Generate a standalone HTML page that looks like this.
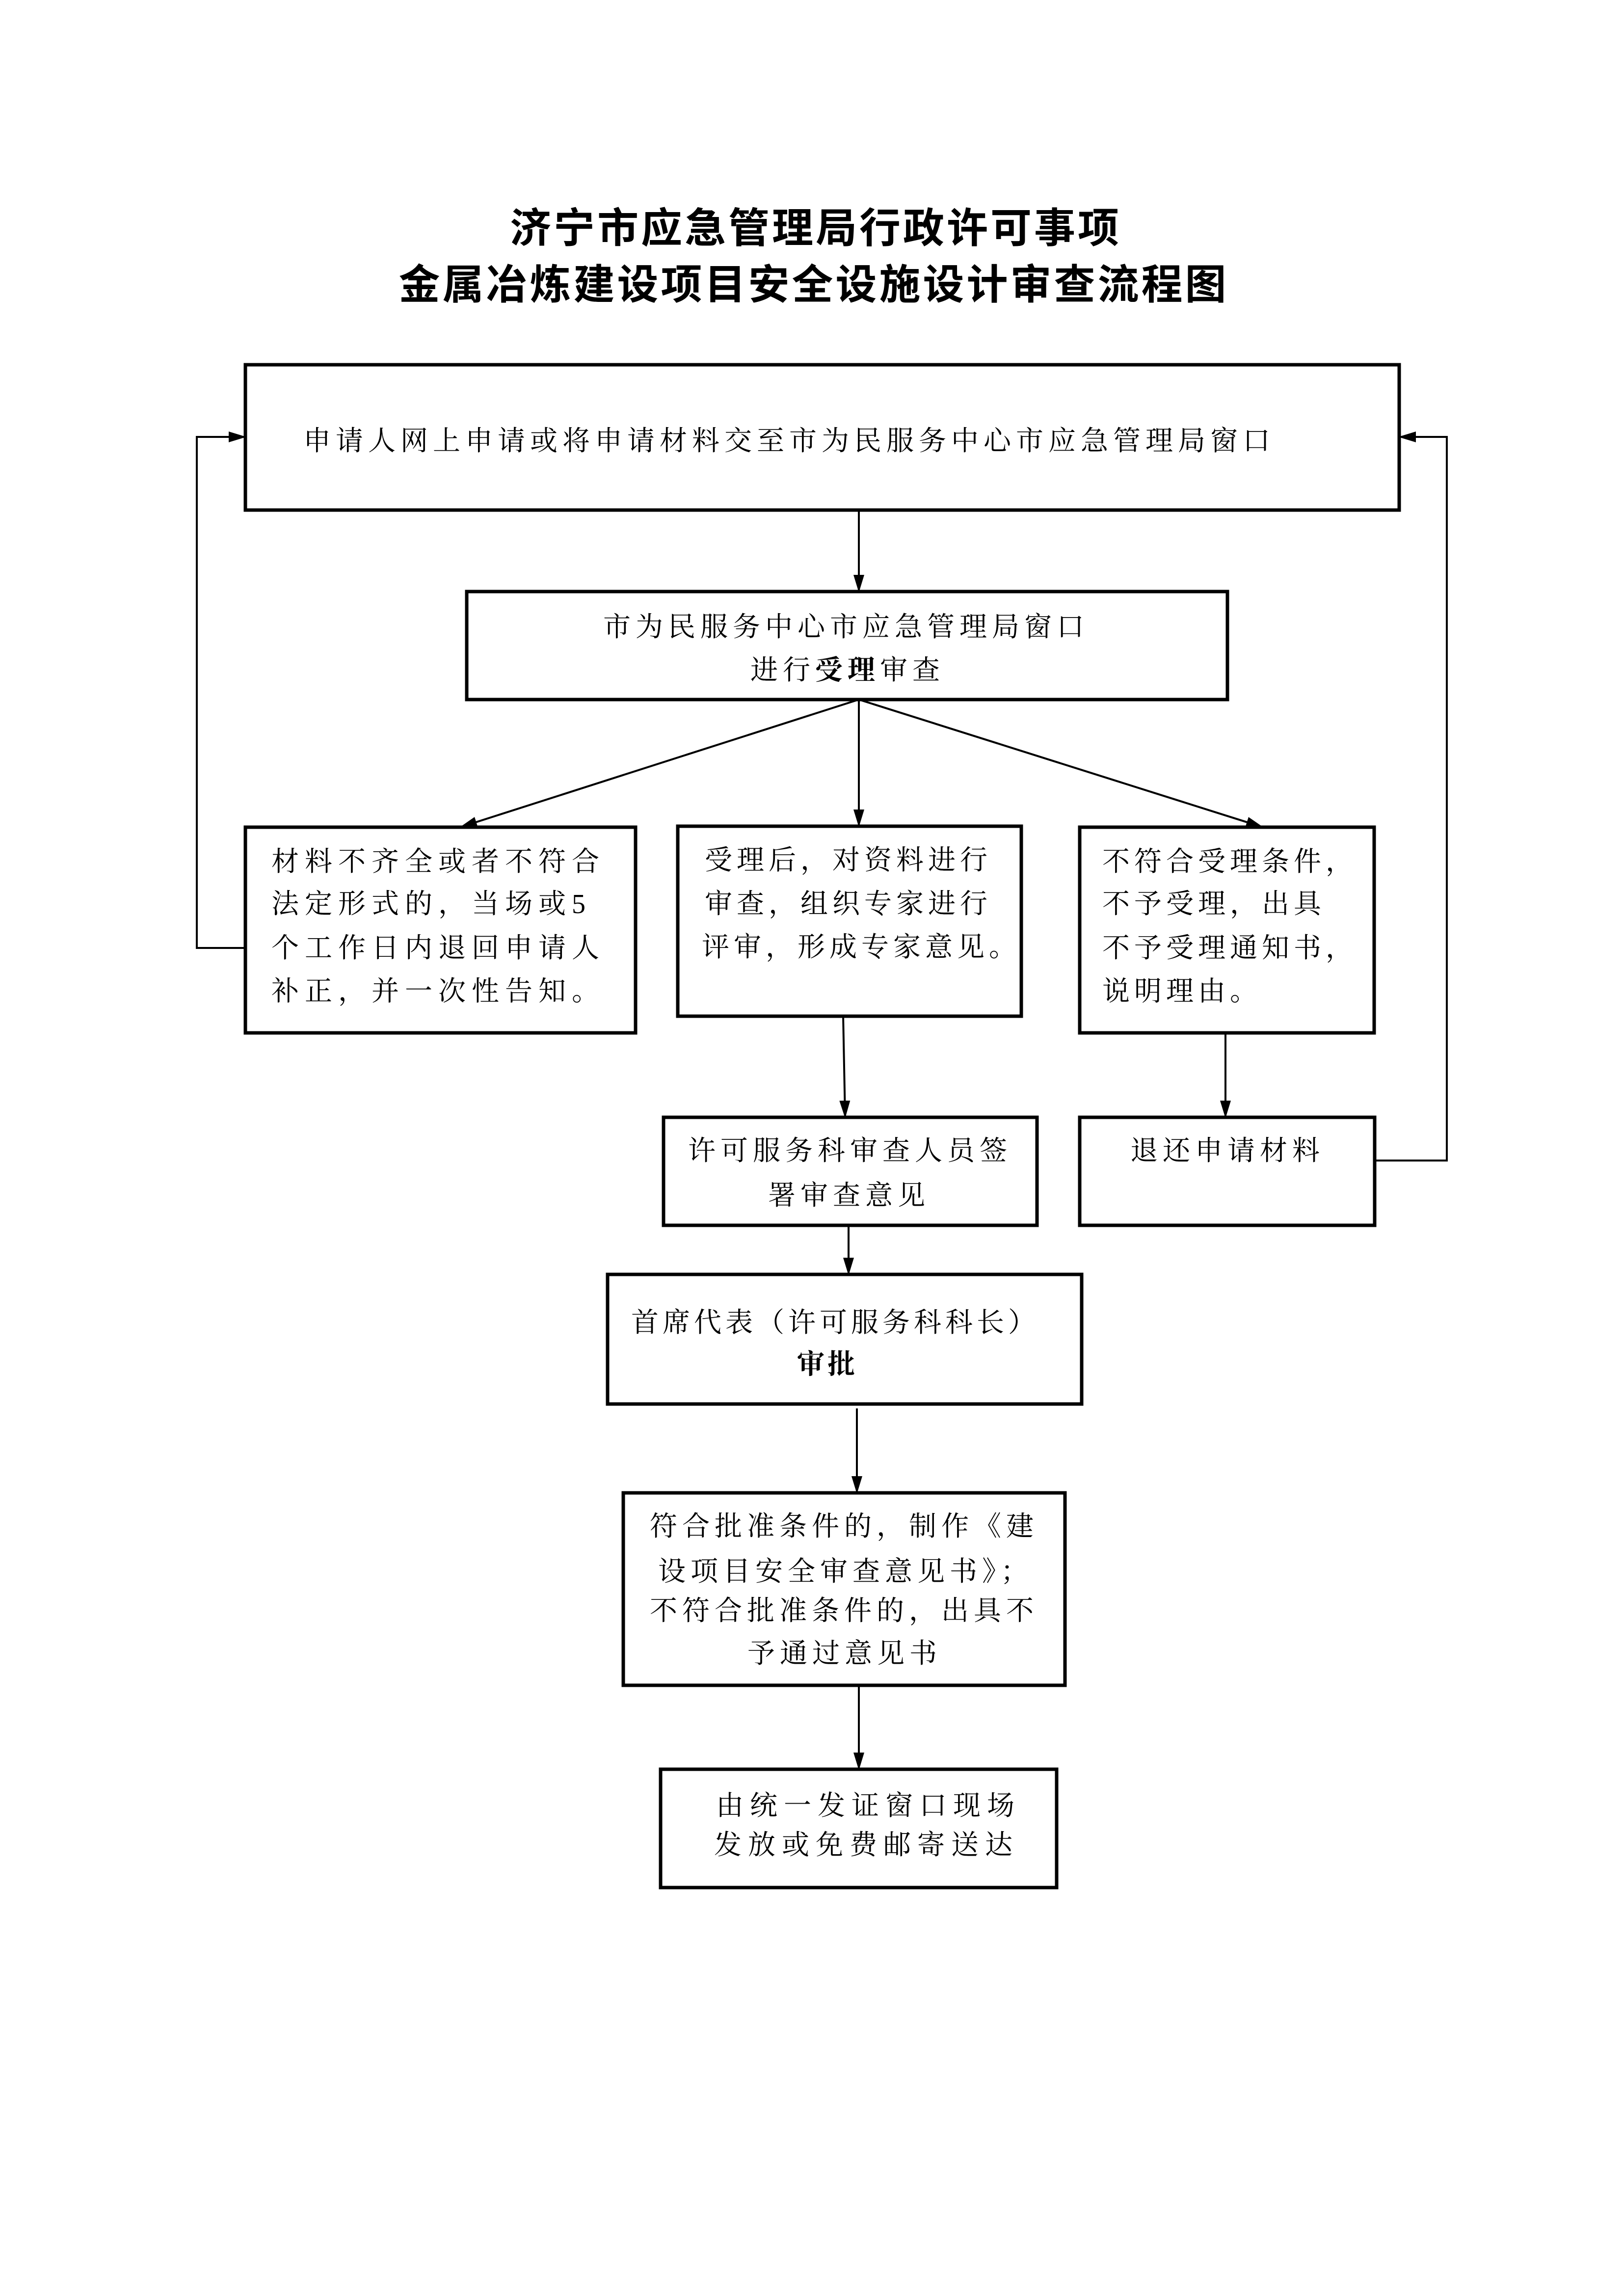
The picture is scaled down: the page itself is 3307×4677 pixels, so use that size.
<!DOCTYPE html>
<html><head><meta charset="utf-8"><style>
html,body{margin:0;padding:0;background:#fff;}
svg{display:block;}
.t{font-family:"Liberation Serif","Noto Serif CJK SC",serif;font-size:56px;fill:#000;dominant-baseline:central;}
.ti{font-family:"Liberation Sans","Noto Sans CJK SC",sans-serif;font-size:84px;font-weight:bold;fill:#000;text-anchor:middle;dominant-baseline:central;letter-spacing:5px;}
.b{fill:none;stroke:#000;stroke-width:7;}
.l{stroke:#000;stroke-width:4;fill:none;}
</style></head><body>
<svg width="3307" height="4677" viewBox="0 0 3307 4677" xmlns="http://www.w3.org/2000/svg">
<defs>
<marker id="m" markerWidth="36" markerHeight="36" refX="34" refY="18" orient="auto" markerUnits="userSpaceOnUse"><path d="M0,7 L36,18 L0,29 z" fill="#000"/></marker></defs>

<text class="ti" x="1662" y="465">济宁市应急管理局行政许可事项</text>
<text class="ti" x="1658" y="580">金属冶炼建设项目安全设施设计审查流程图</text>

<rect class="b" x="500" y="743" width="2351" height="296"/>
<text class="t" x="618" y="899" style="letter-spacing:10px">申请人网上申请或将申请材料交至市为民服务中心市应急管理局窗口</text>

<line class="l" x1="1750" y1="1039" x2="1750" y2="1205" marker-end="url(#m)"/>

<rect class="b" x="951" y="1205" width="1550" height="220"/>
<text class="t" x="1229" y="1278" style="letter-spacing:10px">市为民服务中心市应急管理局窗口</text>
<text class="t" x="1529" y="1366" style="letter-spacing:10px">进行<tspan font-weight="bold">受理</tspan>审查</text>

<line class="l" x1="1750" y1="1425" x2="938" y2="1685" marker-end="url(#m)"/>
<line class="l" x1="1750" y1="1425" x2="1750" y2="1683" marker-end="url(#m)"/>
<line class="l" x1="1750" y1="1425" x2="2573" y2="1685" marker-end="url(#m)"/>

<rect class="b" x="500" y="1685" width="795" height="419"/>
<text class="t" x="553" y="1756" style="letter-spacing:12px">材料不齐全或者不符合</text>
<text class="t" x="553" y="1842" style="letter-spacing:12px">法定形式的，当场或5</text>
<text class="t" x="553" y="1932" style="letter-spacing:12px">个工作日内退回申请人</text>
<text class="t" x="553" y="2020" style="letter-spacing:12px">补正，并一次性告知。</text>

<rect class="b" x="1381" y="1683" width="700" height="387"/>
<text class="t" x="1436" y="1753" style="letter-spacing:9px">受理后，对资料进行</text>
<text class="t" x="1436" y="1842" style="letter-spacing:9px">审查，组织专家进行</text>
<text class="t" x="1430" y="1930" style="letter-spacing:9px">评审，形成专家意见。</text>

<rect class="b" x="2200" y="1685" width="600" height="419"/>
<text class="t" x="2246" y="1756" style="letter-spacing:9px">不符合受理条件，</text>
<text class="t" x="2246" y="1842" style="letter-spacing:9px">不予受理，出具</text>
<text class="t" x="2246" y="1932" style="letter-spacing:9px">不予受理通知书，</text>
<text class="t" x="2246" y="2020" style="letter-spacing:9px">说明理由。</text>

<polyline class="l" points="500,1931 401,1931 401,890 500,890" marker-end="url(#m)"/>
<polyline class="l" points="2801,2364 2948,2364 2948,890 2851,890" marker-end="url(#m)"/>

<line class="l" x1="1718" y1="2070" x2="1722" y2="2276" marker-end="url(#m)"/>
<line class="l" x1="2497" y1="2104" x2="2497" y2="2276" marker-end="url(#m)"/>

<rect class="b" x="1352" y="2276" width="761" height="220"/>
<text class="t" x="1402" y="2345" style="letter-spacing:10px">许可服务科审查人员签</text>
<text class="t" x="1565" y="2436" style="letter-spacing:10px">署审查意见</text>

<rect class="b" x="2200" y="2276" width="601" height="220"/>
<text class="t" x="2303" y="2345" style="letter-spacing:10px">退还申请材料</text>

<line class="l" x1="1729" y1="2496" x2="1729" y2="2596" marker-end="url(#m)"/>

<rect class="b" x="1238" y="2596" width="966" height="264"/>
<text class="t" x="1286" y="2695" style="letter-spacing:8px">首席代表（许可服务科科长）</text>
<text class="t" x="1624" y="2780" font-weight="bold" style="letter-spacing:6px">审批</text>

<line class="l" x1="1746" y1="2869" x2="1746" y2="3041" marker-end="url(#m)"/>

<rect class="b" x="1270" y="3041" width="900" height="392"/>
<text class="t" x="1324" y="3110" style="letter-spacing:10px">符合批准条件的，制作《建</text>
<text class="t" x="1341" y="3202" style="letter-spacing:10px">设项目安全审查意见书》；</text>
<text class="t" x="1324" y="3282" style="letter-spacing:10px">不符合批准条件的，出具不</text>
<text class="t" x="1523" y="3369" style="letter-spacing:10px">予通过意见书</text>

<line class="l" x1="1750" y1="3433" x2="1750" y2="3604" marker-end="url(#m)"/>

<rect class="b" x="1346" y="3604" width="807" height="241"/>
<text class="t" x="1459" y="3679" style="letter-spacing:13px">由统一发证窗口现场</text>
<text class="t" x="1455" y="3759" style="letter-spacing:13px">发放或免费邮寄送达</text>
</svg>
</body></html>
